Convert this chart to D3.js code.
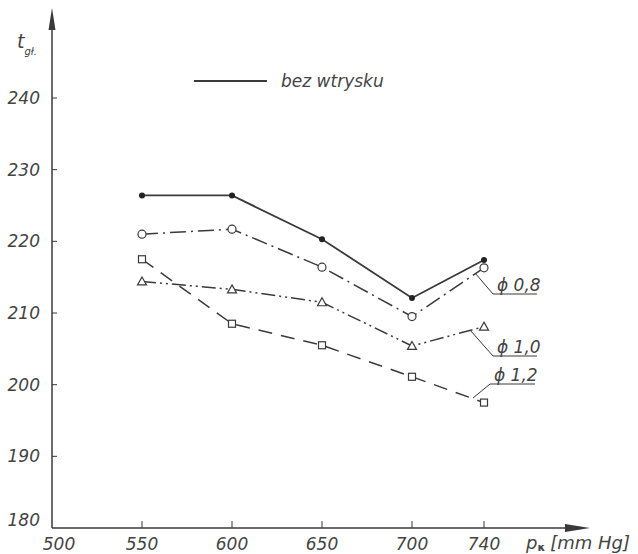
<!DOCTYPE html>
<html>
<head>
<meta charset="utf-8">
<script src="https://cdn.jsdelivr.net/npm/d3@7/dist/d3.min.js"></script>
<style>
body{margin:0;background:#fff;}
text{font-family:"DejaVu Sans",sans-serif;font-style:italic;fill:#444;}
</style>
</head>
<body>
<div id="plot"></div>
<script>
// chart data
var pressure = [550, 600, 650, 700, 740];
var bezWtrysku = [226.4, 226.4, 220.3, 212.1, 217.4];
var phi08 = [221.0, 221.7, 216.4, 209.5, 216.3];
var phi10 = [214.4, 213.3, 211.5, 205.4, 208.1];
var phi12 = [217.5, 208.5, 205.5, 201.1, 197.5];
var xTicks = [500, 550, 600, 650, 700, 740];
var yTicks = [180, 190, 200, 210, 220, 230, 240];

var W = 638, H = 554;
var svg = d3.select('#plot').append('svg')
	.attr('width', W).attr('height', H);

var x = d3.scaleLinear().domain([500, 740]).range([52, 484]);
var y = d3.scaleLinear().domain([180, 240]).range([528, 98]);

var ink = '#3a3a3a';

// axes
svg.append('line').attr('x1', 52).attr('y1', y(180)).attr('x2', 52).attr('y2', 22)
	.attr('stroke', ink).attr('stroke-width', 1.5);
svg.append('path').attr('d', 'M52,8 L48.5,30 L55.5,30 Z').attr('fill', ink);
svg.append('line').attr('x1', 52).attr('y1', y(180)).attr('x2', 575).attr('y2', y(180))
	.attr('stroke', ink).attr('stroke-width', 1.5);
svg.append('path').attr('d', 'M590,' + y(180) + ' L565,' + (y(180) - 4) + ' L565,' + (y(180) + 4) + ' Z').attr('fill', ink);

// y ticks + labels
yTicks.forEach(function(t){
	if (t > 180) {
		svg.append('line').attr('x1', 52).attr('x2', 57).attr('y1', y(t)).attr('y2', y(t))
			.attr('stroke', ink).attr('stroke-width', 1);
	}
	svg.append('text').attr('x', 40).attr('y', y(t) + (t == 180 ? -2 : 6))
		.attr('text-anchor', 'end').attr('font-size', 17).text(t);
});

// x ticks + labels
xTicks.forEach(function(t){
	if (t > 500) {
		svg.append('line').attr('x1', x(t)).attr('x2', x(t)).attr('y1', y(180)).attr('y2', y(180) - 7)
			.attr('stroke', ink).attr('stroke-width', 1);
	}
	svg.append('text').attr('x', x(t) + (t == 500 ? 7 : 0)).attr('y', 550)
		.attr('text-anchor', 'middle').attr('font-size', 17).text(t);
});

// axis titles
var yl = svg.append('text').attr('x', 17).attr('y', 48).attr('font-size', 19);
yl.append('tspan').text('t');
yl.append('tspan').attr('font-size', 10).attr('dy', 7).text('gł.');

var xl = svg.append('text').attr('x', 526).attr('y', 549).attr('font-size', 18);
xl.append('tspan').text('p');
xl.append('tspan').attr('font-size', 11).attr('dy', 2).attr('font-style', 'normal').attr('font-weight', 'bold').text('κ');
xl.append('tspan').attr('dy', -2).attr('dx', 5).text('[mm Hg]');

// series
var line = d3.line().x(function(d, i){ return x(pressure[i]); }).y(function(d){ return y(d); });

var series = [
	{vals: bezWtrysku, dash: null, w: 1.8, marker: 'dot'},
	{vals: phi08, dash: '16,5,2,5', w: 1.5, marker: 'circle'},
	{vals: phi10, dash: '14,4,2,4,2,4', w: 1.5, marker: 'triangle'},
	{vals: phi12, dash: '14,9', w: 1.5, marker: 'square'}
];

series.forEach(function(s){
	svg.append('path').datum(s.vals).attr('d', line).attr('fill', 'none')
		.attr('stroke', ink).attr('stroke-width', s.w)
		.attr('stroke-dasharray', s.dash);
	s.vals.forEach(function(v, i){
		var cx = x(pressure[i]), cy = y(v);
		if (s.marker == 'dot') {
			svg.append('circle').attr('cx', cx).attr('cy', cy).attr('r', 3).attr('fill', '#222');
		} else if (s.marker == 'circle') {
			svg.append('circle').attr('cx', cx).attr('cy', cy).attr('r', 4)
				.attr('fill', '#fff').attr('stroke', ink).attr('stroke-width', 1.2);
		} else if (s.marker == 'triangle') {
			svg.append('path').attr('d', 'M' + cx + ',' + (cy - 4.5) + ' L' + (cx + 4.5) + ',' + (cy + 3.5) + ' L' + (cx - 4.5) + ',' + (cy + 3.5) + ' Z')
				.attr('fill', '#fff').attr('stroke', ink).attr('stroke-width', 1.2);
		} else {
			svg.append('rect').attr('x', cx - 3.5).attr('y', cy - 3.5).attr('width', 7).attr('height', 7)
				.attr('fill', '#fff').attr('stroke', ink).attr('stroke-width', 1.2);
		}
	});
});

// legend
svg.append('line').attr('x1', 194).attr('x2', 267).attr('y1', 81).attr('y2', 81)
	.attr('stroke', ink).attr('stroke-width', 1.8);
svg.append('text').attr('x', 281).attr('y', 87).attr('font-size', 17).text('bez  wtrysku');

// series labels with leaders
var tags = [
	{txt: 'ϕ 0,8', from: [475, 273], to: [493, 294], ul: 294, x2: 537},
	{txt: 'ϕ 1,0', from: [470, 330], to: [493, 356], ul: 356, x2: 537},
	{txt: 'ϕ 1,2', from: [473, 398], to: [490, 384], ul: 384, x2: 535}
];
tags.forEach(function(t){
	svg.append('line').attr('x1', t.from[0]).attr('y1', t.from[1]).attr('x2', t.to[0]).attr('y2', t.to[1])
		.attr('stroke', ink).attr('stroke-width', 1);
	svg.append('line').attr('x1', t.to[0]).attr('y1', t.ul).attr('x2', t.x2).attr('y2', t.ul)
		.attr('stroke', ink).attr('stroke-width', 1);
	svg.append('text').attr('x', t.to[0] + 4).attr('y', t.ul - 3).attr('font-size', 17).text(t.txt);
});
</script>
</body>
</html>
